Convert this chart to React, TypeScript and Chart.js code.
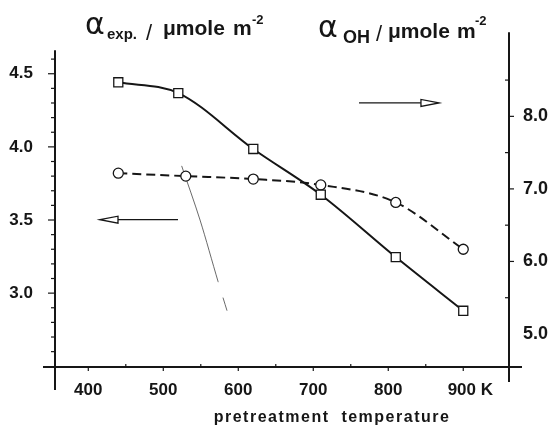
import React, { useEffect, useRef } from 'react';
import { Chart, registerables } from 'chart.js';

Chart.register(...registerables);

// ---- data ----
const TEMP_EXP = [440, 530, 620, 710, 810, 900];
const ALPHA_EXP = [3.82, 3.8, 3.78, 3.74, 3.62, 3.3];
const TEMP_OH = [440, 520, 620, 710, 810, 900];
const ALPHA_OH = [8.47, 8.32, 7.55, 6.92, 6.06, 5.32];
// thin stray leader line seen in the scan (left-axis units)
const STRAY_T = [524.5, 549, 573, 585];
const STRAY_V = [3.87, 3.5, 3.08, 2.88];

const TEMP_TICKS = [400, 500, 600, 700, 800, 900];
const TEMP_TICK_LABELS = ['400', '500', '600', '700', '800', '900 K'];
const LEFT_TICKS = [3.0, 3.5, 4.0, 4.5];
const LEFT_TICK_LABELS = ['3.0', '3.5', '4.0', '4.5'];
const RIGHT_TICKS = [5, 6, 7, 8];
const RIGHT_TICK_LABELS = ['5.0', '6.0', '7.0', '8.0'];

const INK = '#161616';
const FONT = '"Liberation Sans", Arial, sans-serif';

function labelFor(ticks: number[], labels: string[], v: number) {
  const i = ticks.findIndex((t) => Math.abs(t - v) < 1e-6);
  return i >= 0 ? labels[i] : '';
}

const decor = {
  id: 'decor',
  afterDraw(chart: any) {
    const ctx: CanvasRenderingContext2D = chart.ctx;
    const x = chart.scales.x;
    const yl = chart.scales.yL;
    const yr = chart.scales.yR;
    const ca = chart.chartArea;
    const ln = (x1: number, y1: number, x2: number, y2: number) => {
      ctx.beginPath();
      ctx.moveTo(x1, y1);
      ctx.lineTo(x2, y2);
      ctx.stroke();
    };
    ctx.save();
    ctx.strokeStyle = INK;
    ctx.fillStyle = INK;
    ctx.lineCap = 'butt';

    // axis lines (with the crossing stubs of the original)
    ctx.lineWidth = 2;
    ln(ca.left - 12, ca.bottom, ca.right + 13, ca.bottom);
    ln(ca.left, yl.getPixelForValue(4.66), ca.left, ca.bottom + 23);
    ln(ca.right, ca.top, ca.right, ca.bottom + 15);

    // tick marks
    ctx.lineWidth = 1.2;
    for (let k = 26; k <= 46; k++) {
      const v = k / 10;
      const py = yl.getPixelForValue(v);
      const major = k % 5 === 0;
      ln(ca.left - (major ? 7 : 4), py, ca.left, py);
    }
    for (let k = 11; k <= 17; k++) {
      const v = k / 2;
      const py = yr.getPixelForValue(v);
      if (k % 2 === 0) ln(ca.right, py, ca.right + 5, py);
      else ln(ca.right - 4, py, ca.right, py);
    }
    for (let t = 400; t <= 900; t += 50) {
      const px = x.getPixelForValue(t);
      if (t % 100 === 0) ln(px, ca.bottom, px, ca.bottom + 4);
      else ln(px, ca.bottom - 3, px, ca.bottom);
    }

    // arrows
    const arrow = (xTail: number, xTip: number, py: number) => {
      const dir = Math.sign(xTip - xTail);
      const head = 18;
      const hb = xTip - dir * head;
      ctx.lineWidth = 1.3;
      ln(xTail, py, hb, py);
      ctx.beginPath();
      ctx.moveTo(xTip, py);
      ctx.lineTo(hb, py - 3.5);
      ctx.lineTo(hb, py + 3.5);
      ctx.closePath();
      ctx.fillStyle = '#fff';
      ctx.fill();
      ctx.stroke();
      ctx.fillStyle = INK;
    };
    arrow(x.getPixelForValue(761), x.getPixelForValue(867.6), yr.getPixelForValue(8.185));
    arrow(x.getPixelForValue(519.6), x.getPixelForValue(415.6), yl.getPixelForValue(3.502));

    // axis titles
    ctx.textAlign = 'left';
    ctx.textBaseline = 'alphabetic';
    const put = (t: string, px: number, py: number, font: string) => {
      ctx.font = font;
      ctx.fillText(t, px, py);
    };
    const alphaFont = '30px "DejaVu Sans", sans-serif';
    put('\u03b1', 85, 34, alphaFont);
    put('exp.', 107, 39, 'bold 15px ' + FONT);
    put('/', 146, 40, '22px ' + FONT);
    put('\u03bcmole', 163, 35, 'bold 21px ' + FONT);
    put('m', 233, 35, 'bold 21px ' + FONT);
    put('-2', 252, 24, 'bold 13px ' + FONT);

    put('\u03b1', 318, 37, alphaFont);
    put('OH', 343, 43, 'bold 18px ' + FONT);
    put('/', 376, 41, '22px ' + FONT);
    put('\u03bcmole', 388, 38, 'bold 21px ' + FONT);
    put('m', 457, 38, 'bold 21px ' + FONT);
    put('-2', 475, 25, 'bold 13px ' + FONT);

    ctx.font = 'bold 16px ' + FONT;
    (ctx as any).letterSpacing = '1.5px';
    ctx.textAlign = 'center';
    ctx.fillText('pretreatment  temperature', x.getPixelForValue(725), 422);
    ctx.restore();
  },
};

export default function App() {
  const ref = useRef<HTMLCanvasElement | null>(null);
  useEffect(() => {
    if (!ref.current) return;
    const chart = new Chart(ref.current, {
      type: 'line',
      data: {
        datasets: [
          {
            label: 'alpha OH',
            data: TEMP_OH.map((t, i) => ({ x: t, y: ALPHA_OH[i] })),
            yAxisID: 'yR',
            borderColor: INK,
            borderWidth: 2,
            cubicInterpolationMode: 'monotone',
            pointStyle: 'rect',
            pointRadius: 6.4,
            pointBorderWidth: 1.3,
            pointBackgroundColor: '#fff',
            pointBorderColor: INK,
          },
          {
            label: 'alpha exp',
            data: TEMP_EXP.map((t, i) => ({ x: t, y: ALPHA_EXP[i] })),
            yAxisID: 'yL',
            borderColor: INK,
            borderWidth: 2,
            borderDash: [9, 5],
            cubicInterpolationMode: 'monotone',
            pointStyle: 'circle',
            pointRadius: 5,
            pointBorderWidth: 1.3,
            pointBackgroundColor: '#fff',
            pointBorderColor: INK,
          },
          {
            label: 'stray',
            data: STRAY_T.map((t, i) => ({ x: t, y: STRAY_V[i] })),
            yAxisID: 'yL',
            borderColor: '#444',
            borderWidth: 0.8,
            borderDash: [122, 16],
            tension: 0.3,
            pointRadius: 0,
          },
        ],
      },
      options: {
        animation: false,
        responsive: false,
        events: [],
        layout: { padding: { top: 26, left: 0, right: 0, bottom: 0 } },
        plugins: { legend: { display: false }, tooltip: { enabled: false } },
        scales: {
          x: {
            type: 'linear',
            min: 355.6,
            max: 961,
            grid: { display: false, drawTicks: false },
            border: { display: false },
            afterBuildTicks: (s: any) => {
              s.ticks = TEMP_TICKS.map((v) => ({ value: v }));
            },
            afterFit: (s: any) => {
              s.height = 59;
            },
            ticks: {
              autoSkip: false,
              maxRotation: 0,
              padding: 13,
              color: INK,
              font: { family: FONT, weight: 'bold', size: 17 },
              callback: (v: any) => {
                const l = labelFor(TEMP_TICKS, TEMP_TICK_LABELS, Number(v));
                return l.endsWith(' K') ? '   ' + l : l;
              },
            },
          },
          yL: {
            type: 'linear',
            position: 'left',
            min: 2.495,
            max: 4.784,
            grid: { display: false, drawTicks: false },
            border: { display: false },
            afterBuildTicks: (s: any) => {
              s.ticks = LEFT_TICKS.map((v) => ({ value: v }));
            },
            afterFit: (s: any) => {
              s.width = 55;
            },
            ticks: {
              autoSkip: false,
              padding: 22,
              color: INK,
              font: { family: FONT, weight: 'bold', size: 17 },
              callback: (v: any) => labelFor(LEFT_TICKS, LEFT_TICK_LABELS, Number(v)),
            },
          },
          yR: {
            type: 'linear',
            position: 'right',
            min: 4.545,
            max: 9.16,
            grid: { display: false, drawTicks: false },
            border: { display: false },
            afterBuildTicks: (s: any) => {
              s.ticks = RIGHT_TICKS.map((v) => ({ value: v }));
            },
            afterFit: (s: any) => {
              s.width = 45;
            },
            ticks: {
              autoSkip: false,
              padding: 14,
              color: INK,
              font: { family: FONT, weight: 'bold', size: 18 },
              callback: (v: any) => labelFor(RIGHT_TICKS, RIGHT_TICK_LABELS, Number(v)),
            },
          },
        },
      },
      plugins: [decor],
    } as any);
    return () => chart.destroy();
  }, []);

  return (
    <div style={{ position: 'fixed', left: 0, top: 0, width: 554, height: 426, background: '#fff' }}>
      <canvas ref={ref} width={554} height={426} style={{ display: 'block' }} />
    </div>
  );
}
